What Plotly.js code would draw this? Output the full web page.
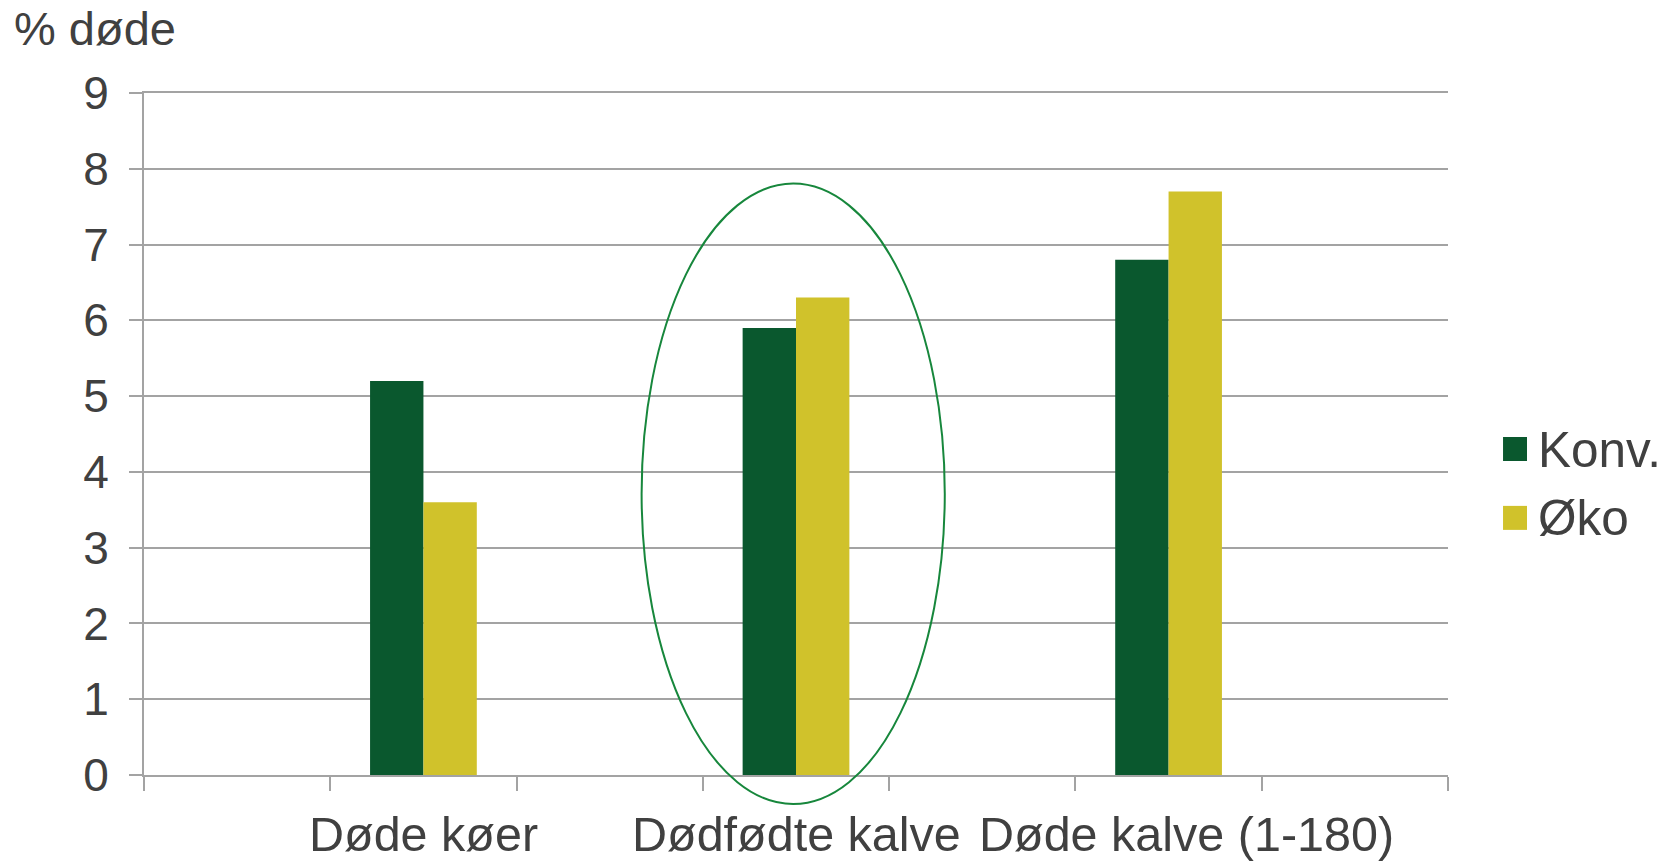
<!DOCTYPE html>
<html>
<head>
<meta charset="utf-8">
<script src="https://cdn.plot.ly/plotly-3.0.1.min.js"></script>
<style>html,body{margin:0;padding:0;background:#fff;}#chart{width:1674px;height:861px;}</style>
</head>
<body>
<div id="chart"></div>
<script>
// Data
const categories = ['Døde køer', 'Dødfødte kalve', 'Døde kalve (1-180)'];
const seriesNames = ['Konv.', 'Øko'];
const konv = [5.2, 5.9, 6.8];
const oko = [3.6, 6.3, 7.7];
const yTicks = [0, 1, 2, 3, 4, 5, 6, 7, 8, 9];
const yTitle = '% døde';

// Axis slots: empty spacer slots around each category (as in the original chart)
const slots = [' '];
categories.forEach((c, i) => { slots.push(c); slots.push(' '.repeat(i + 2)); });

const colors = ['#0a582e', '#d0c22b'];
const textColor = '#404040';
const gridColor = '#a3a3a3';
const font = 'Liberation Sans, Arial, sans-serif';
// pixel nudges of category labels so they do not touch (as in the original)
const labelNudge = [0, 0, 18];

const traces = [konv, oko].map((vals, i) => ({
  type: 'bar',
  x: categories,
  y: vals,
  name: seriesNames[i],
  marker: {color: colors[i], line: {width: 0}},
  showlegend: false,
  hoverinfo: 'x+y+name'
}));

const shapes = [];
const annotations = [];
// Category labels
categories.forEach((c, i) => {
  annotations.push({xref: 'x', yref: 'paper', x: c, y: -0.0865,
    xanchor: 'center', yanchor: 'middle', xshift: labelNudge[i],
    text: c, showarrow: false,
    font: {family: font, size: 48.5, color: textColor}});
});
// Manual legend (large square swatches)
const legendY = [0.478, 0.377];
seriesNames.forEach((n, i) => {
  shapes.push({type: 'rect', xref: 'paper', yref: 'paper',
    x0: 1.0422, x1: 1.0606, y0: legendY[i] - 0.0176, y1: legendY[i] + 0.0176,
    fillcolor: colors[i], line: {width: 0}});
  annotations.push({xref: 'paper', yref: 'paper', x: 1.0675, y: legendY[i],
    xanchor: 'left', yanchor: 'middle', text: n, showarrow: false,
    font: {family: font, size: 49.5, color: textColor}});
});
// Highlight ellipse round the middle category
shapes.push({type: 'circle', xref: 'paper', yref: 'paper',
  x0: 0.3816, x1: 0.6141, y0: -0.0425, y1: 0.8672,
  line: {color: '#17873c', width: 2}, layer: 'above'});
annotations.push({xref: 'paper', yref: 'paper', x: -0.1012, y: 1.0946,
  xanchor: 'left', yanchor: 'middle', text: yTitle, showarrow: false,
  font: {family: font, size: 47, color: textColor}});

const layout = {
  width: 1674, height: 861,
  margin: {l: 144, r: 226, t: 93, b: 86, pad: 0},
  paper_bgcolor: '#fff', plot_bgcolor: '#fff',
  font: {family: font, color: textColor},
  barmode: 'group', bargap: 0.427, bargroupgap: 0,
  xaxis: {
    type: 'category', categoryorder: 'array', categoryarray: slots,
    range: [-0.5, slots.length - 0.5],
    tickson: 'boundaries', ticks: 'outside', ticklen: 14, tickwidth: 2, tickcolor: gridColor,
    showline: true, mirror: true, linecolor: gridColor, linewidth: 2,
    showgrid: false, zeroline: false, showticklabels: false, fixedrange: true
  },
  yaxis: {
    range: [0, 9], tickvals: yTicks, ticktext: yTicks.map(String),
    ticks: 'outside', ticklen: 13, tickwidth: 2, tickcolor: gridColor,
    showline: true, linecolor: gridColor, linewidth: 2,
    showgrid: true, gridcolor: gridColor, gridwidth: 2, zeroline: false,
    tickfont: {family: font, size: 46, color: textColor},
    ticklabelstandoff: 11, fixedrange: true
  },
  shapes: shapes,
  annotations: annotations,
  showlegend: false
};

Plotly.newPlot('chart', traces, layout, {displayModeBar: false, staticPlot: true});
</script>
</body>
</html>
